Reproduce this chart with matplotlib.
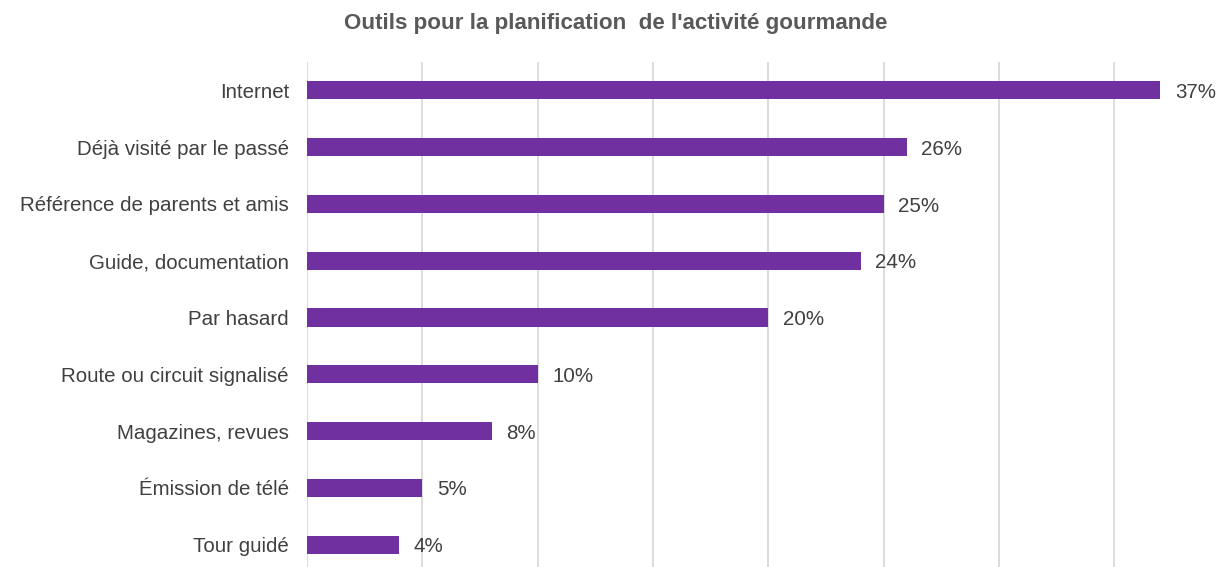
import matplotlib
matplotlib.use("Agg")
import matplotlib.pyplot as plt

categories = ["Internet", "Déjà visité par le passé", "Référence de parents et amis",
              "Guide, documentation", "Par hasard", "Route ou circuit signalisé",
              "Magazines, revues", "Émission de télé", "Tour guidé"]
values = [37, 26, 25, 24, 20, 10, 8, 5, 4]
labels = [f"{v}%" for v in values]
title = "Outils pour la planification  de l'activité gourmande"

plt.rcParams['font.family'] = ['Liberation Sans', 'DejaVu Sans']

fig = plt.figure(figsize=(12.17, 5.67), dpi=100)
ax = fig.add_axes([307/1217, -6/567, (1172-307)/1217, (573-62)/567])

n = len(categories)
ypos = list(range(n))
ax.barh(ypos, values, height=0.32, color="#7030A0", zorder=3)
ax.set_ylim(n - 0.5, -0.5)
ax.set_xlim(0, 37.5)
ax.set_xticks([0, 5, 10, 15, 20, 25, 30, 35])
ax.xaxis.grid(True, color="#D9D9D9", linewidth=1.3, zorder=0)
ax.set_axisbelow(True)
ax.tick_params(axis='x', bottom=False, labelbottom=False)
ax.tick_params(axis='y', left=False, pad=9.5, labelsize=14.8, labelcolor="#404040")
ax.set_yticks(ypos)
ax.set_yticklabels(categories)
for s in ax.spines.values():
    s.set_visible(False)

for y, v, lab in zip(ypos, values, labels):
    ax.annotate(lab, (v, y), xytext=(10.5, -1.5), textcoords="offset points",
                ha="left", va="center", fontsize=14.8, color="#404040",
                annotation_clip=False)

fig.text(616/1217, 1 - 23/567, title, ha="center", va="center", fontsize=16.1,
         fontweight="bold", color="#595959")

fig.savefig("out.png", dpi=100)
